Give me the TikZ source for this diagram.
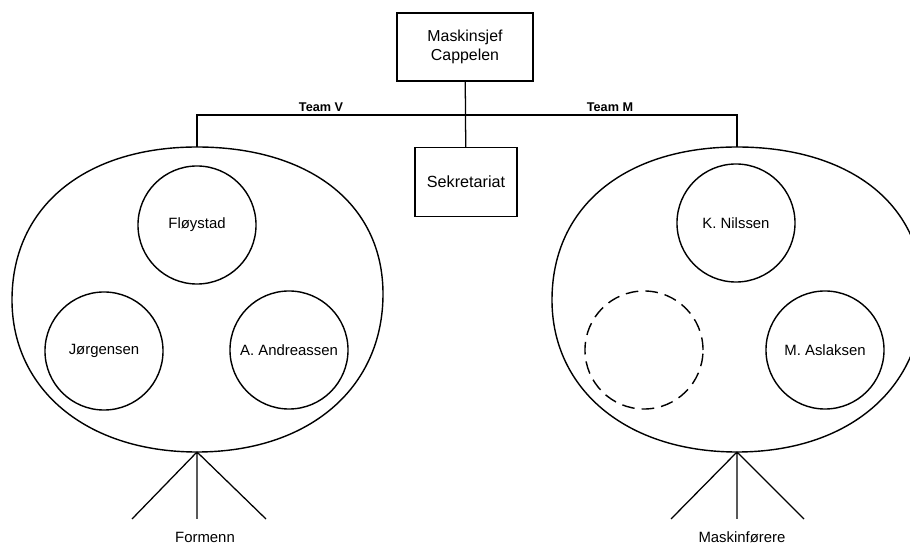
\documentclass[tikz,border=0pt]{standalone}
\usepackage{fontspec}
\setmainfont{Liberation Sans}
\tikzset{
  boks/.style={draw,line width=1pt,inner sep=2pt,align=center},
  person/.style={circle,draw,line width=1pt,minimum size=2.95cm,inner sep=0pt,font=\fontsize{10.6}{13}\selectfont},
  ledig/.style={person,dash pattern=on 9pt off 5pt},
  ring/.style={line width=1pt},
  strek/.style={line width=0.9pt},
  teamtekst/.style={font=\bfseries\fontsize{9}{11}\selectfont},
  bunntekst/.style={font=\fontsize{10.6}{13}\selectfont},
}
\begin{document}
\begin{tikzpicture}[x=0.025cm,y=-0.025cm]
\useasboundingbox (0,0) rectangle (910,544);
% ledelse
\node[boks,minimum width=3.4cm,minimum height=1.7cm,font=\fontsize{11.3}{14}\selectfont] (sjef) at (465,47) {Maskinsjef\\Cappelen};
\node[boks,minimum width=2.55cm,minimum height=1.72cm,font=\fontsize{11.5}{14}\selectfont] (sekr) at (466,182) {Sekretariat};
\draw[strek] (sjef) -- (sekr);
% team V
\begin{scope}[shift={(197,300)}]
\draw[ring] (0,-153) .. controls (110,-153) and (186,-98) .. (186,-6)
  .. controls (186,89) and (111,152) .. (0,152)
  .. controls (-111,152) and (-185,89) .. (-185,0)
  .. controls (-185,-95) and (-110,-153) .. (0,-153) -- cycle;
\coordinate (vtopp) at (0,-153);
\coordinate (vbunn) at (0,152);
\end{scope}
\node[person] (floystad) at (197,225) {Fløystad};
\node[person] (jorgensen) at (104,351) {Jørgensen};
\node[person] (andreassen) at (289,350) {A. Andreassen};
% team M
\begin{scope}[shift={(737,300)}]
\draw[ring] (0,-153) .. controls (110,-153) and (186,-98) .. (186,-6)
  .. controls (186,89) and (111,152) .. (0,152)
  .. controls (-111,152) and (-185,89) .. (-185,0)
  .. controls (-185,-95) and (-110,-153) .. (0,-153) -- cycle;
\coordinate (mtopp) at (0,-153);
\coordinate (mbunn) at (0,152);
\end{scope}
\node[person] (nilssen) at (736,223) {K. Nilssen};
\node[ledig] (tom) at (644,350) {};
\node[person] (aslaksen) at (825,350) {M. Aslaksen};
% linjer
\coordinate (kryss) at (466,115);
\draw[strek] (vtopp) |- (kryss) -| (mtopp);
\path[draw]  (321,107) node[teamtekst] (teamv) {Team V};
\path[draw]  (610,107) node[teamtekst] (teamm) {Team M};
% formenn og maskinf\o rere
\coordinate (vben1) at (132,519);
\coordinate (vben2) at (197,519);
\coordinate (vben3) at (266,519);
\draw[strek] (vbunn) -- (vben1) (vbunn) -- (vben2) (vbunn) -- (vben3);
\coordinate (mben1) at (671,519);
\coordinate (mben2) at (737,519);
\coordinate (mben3) at (804,519);
\draw[strek] (mbunn) -- (mben1) (mbunn) -- (mben2) (mbunn) -- (mben3);
\node[bunntekst] (formenn) at (205,537) {Formenn};
\node[bunntekst] (maskinforere) at (742,537) {Maskinførere};
\end{tikzpicture}
\end{document}
